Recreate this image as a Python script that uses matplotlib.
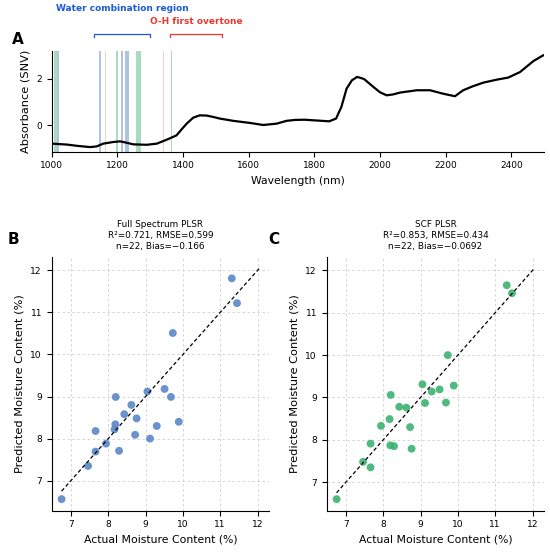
import matplotlib
matplotlib.use("Agg")
import matplotlib.pyplot as plt
import matplotlib.transforms as mtransforms

# Spectrum (panel A)
wavelength = [1000, 1046, 1080, 1117, 1137, 1157, 1187, 1208, 1228, 1248, 1289, 1320, 1350, 1380,
              1395, 1411, 1431, 1451, 1472, 1492, 1512, 1553, 1604, 1644, 1685, 1715, 1740, 1770,
              1802, 1845, 1866, 1882, 1898, 1914, 1930, 1951, 1980, 2000, 2020, 2040, 2061, 2112,
              2152, 2192, 2228, 2253, 2280, 2314, 2355, 2390, 2426, 2467, 2497, 2500]
absorbance = [-0.81, -0.85, -0.91, -0.96, -0.93, -0.81, -0.74, -0.71, -0.77, -0.84, -0.86, -0.81, -0.64, -0.45,
              -0.20, 0.06, 0.32, 0.42, 0.41, 0.35, 0.28, 0.18, 0.09, 0.00, 0.06, 0.18, 0.22, 0.23,
              0.20, 0.16, 0.28, 0.78, 1.58, 1.94, 2.09, 2.00, 1.65, 1.42, 1.29, 1.33, 1.41, 1.51,
              1.51, 1.36, 1.25, 1.51, 1.67, 1.84, 1.97, 2.06, 2.30, 2.78, 3.03, 3.03]

blue_bands = [(1015, 1022), (1143, 1150), (1212, 1217), (1223, 1235)]
green_bands = [(1008, 1015), (1196, 1202), (1256, 1271), (1363, 1367)]
red_bands = [(1162, 1165), (1338, 1341)]

water_region = (1130, 1300)
oh_region = (1360, 1520)

# Predictions (panels B, C)
actual = [6.75, 7.46, 7.66, 7.66, 7.94, 8.17, 8.19, 8.20, 8.29, 8.43, 8.62,
          8.72, 8.76, 9.05, 9.12, 9.30, 9.51, 9.68, 9.73, 9.89, 11.31, 11.45]
pred_full = [6.56, 7.35, 7.69, 8.18, 7.88, 8.22, 8.34, 8.99, 7.71, 8.58, 8.80,
             8.09, 8.48, 9.12, 8.00, 8.30, 9.18, 8.99, 10.51, 8.40, 11.81, 11.22]
pred_scf = [6.60, 7.48, 7.35, 7.91, 8.33, 8.49, 7.87, 9.06, 7.85, 8.78, 8.76,
            8.30, 7.79, 9.31, 8.87, 9.14, 9.19, 8.88, 10.00, 9.28, 11.65, 11.46]
diag = [6.75, 12.05]

titles = ["Full Spectrum PLSR\nR²=0.721, RMSE=0.599\nn=22, Bias=\u22120.166",
          "SCF PLSR\nR²=0.853, RMSE=0.434\nn=22, Bias=\u22120.0692"]

fig = plt.figure(figsize=(5.5, 5.54), dpi=100)

# Panel A
ax = fig.add_axes([0.094, 0.7262, 0.8956, 0.1823])
for lo, hi in blue_bands:
    ax.axvspan(lo, hi, color="#4a7fc1", alpha=0.45, lw=0)
for lo, hi in green_bands:
    ax.axvspan(lo, hi, color="#3cb371", alpha=0.45, lw=0)
for lo, hi in red_bands:
    ax.axvspan(lo, hi, color="#e8392f", alpha=0.25, lw=0)
ax.plot(wavelength, absorbance, color="black", linewidth=1.6)
ax.set_xlim(1000, 2500)
ax.set_yticks([0, 2])
ax.set_xlabel("Wavelength (nm)", fontsize=7.8)
ax.set_ylabel("Absorbance (SNV)", fontsize=8.2)
ax.tick_params(labelsize=6.5)
ax.spines["top"].set_visible(False)
ax.spines["right"].set_visible(False)

trans = mtransforms.blended_transform_factory(ax.transData, ax.transAxes)
for (lo, hi), col, label, ty in [(water_region, "#1a5ad8", "Water combination region", 1.413),
                                 (oh_region, "#e8392f", "O-H first overtone", 1.287)]:
    ax.plot([lo, lo, hi, hi], [1.139, 1.165, 1.165, 1.139], color=col, lw=0.9,
            transform=trans, clip_on=False)
    ax.text((lo + hi) / 2, ty, label, color=col, fontsize=6.5, fontweight="bold",
            ha="center", va="center", transform=trans)

# Panels B and C
for left, pred, col, title in [(0.094, pred_full, "#5a87c8", titles[0]),
                               (0.594, pred_scf, "#3cb371", titles[1])]:
    ax = fig.add_axes([left, 0.0782, 0.3956, 0.4584])
    ax.scatter(actual, pred, s=32, color=col, alpha=0.9, edgecolors="none", zorder=2)
    ax.plot(diag, diag, color="black", linestyle=(0, (3, 2)), linewidth=0.9, zorder=3)
    ax.grid(True, linestyle=(0, (3, 3)), color="#cfcfcf", linewidth=0.6)
    ax.set_axisbelow(True)
    ax.set_xticks([7, 8, 9, 10, 11, 12])
    ax.set_yticks([7, 8, 9, 10, 11, 12])
    ax.set_xlabel("Actual Moisture Content (%)", fontsize=7.8)
    ax.set_ylabel("Predicted Moisture Content (%)", fontsize=8.2)
    ax.set_title(title, fontsize=6.4, pad=5.5, linespacing=1.3)
    ax.tick_params(labelsize=6.6)
    ax.spines["top"].set_visible(False)
    ax.spines["right"].set_visible(False)

fig.text(0.033, 0.928, "A", fontsize=11, fontweight="bold", ha="center", va="center")
fig.text(0.025, 0.567, "B", fontsize=11, fontweight="bold", ha="center", va="center")
fig.text(0.498, 0.567, "C", fontsize=11, fontweight="bold", ha="center", va="center")

fig.savefig("out.png", dpi=100)
